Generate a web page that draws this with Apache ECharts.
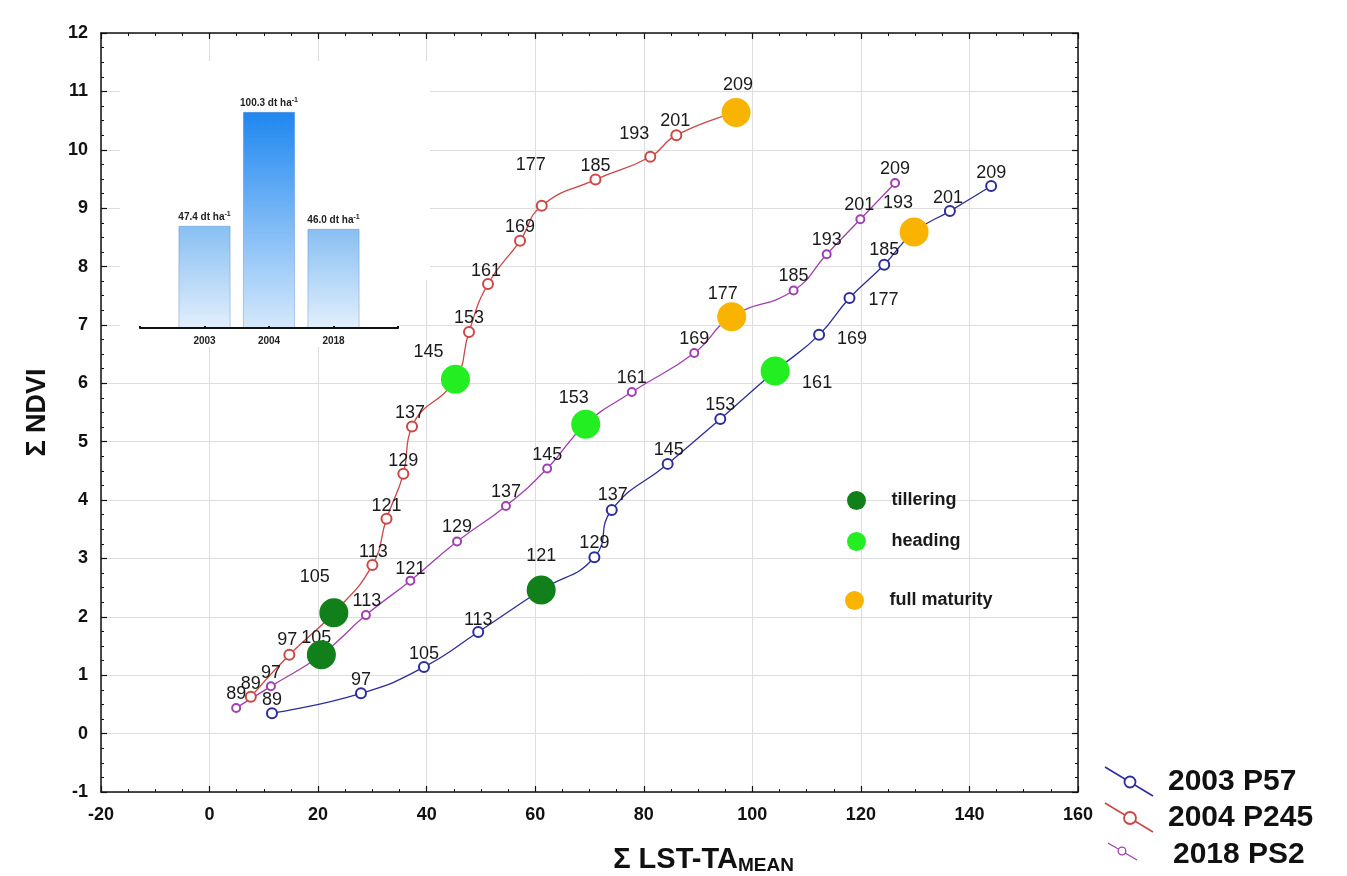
<!DOCTYPE html>
<html><head><meta charset="utf-8">
<script src="https://cdn.jsdelivr.net/npm/echarts@6/dist/echarts.min.js"></script>
<style>html,body{margin:0;padding:0;background:#fff}#c{width:1347px;height:876px}</style>
</head><body><div id="c"></div>
<script>
// ---- data ----
const days = [89, 97, 105, 113, 121, 129, 137, 145, 153, 161, 169, 177, 185, 193, 201, 209];

const x2003 = [11.5, 27.9, 39.5, 49.5, 61.1, 70.9, 74.1, 84.4, 94.1, 104.2, 112.3, 117.9, 124.3, 129.8, 136.4, 144.0];
const y2003 = [0.35, 0.69, 1.14, 1.74, 2.46, 3.02, 3.83, 4.62, 5.39, 6.21, 6.83, 7.46, 8.03, 8.59, 8.95, 9.38];

const x2004 = [7.6, 14.7, 22.9, 30.0, 32.6, 35.7, 37.3, 45.3, 47.8, 51.3, 57.2, 61.2, 71.1, 81.2, 86.0, 97.0];
const y2004 = [0.63, 1.35, 2.07, 2.89, 3.68, 4.45, 5.26, 6.07, 6.88, 7.70, 8.44, 9.04, 9.49, 9.88, 10.25, 10.64];

const x2018 = [4.9, 11.3, 20.6, 28.8, 37.0, 45.6, 54.6, 62.2, 69.3, 77.8, 89.3, 96.2, 107.6, 113.7, 119.9, 126.3];
const y2018 = [0.44, 0.81, 1.35, 2.03, 2.62, 3.29, 3.90, 4.54, 5.30, 5.85, 6.52, 7.14, 7.59, 8.21, 8.81, 9.43];

// growth stage (day of year) for each season
const tilleringDay = {'2003': 121, '2004': 105, '2018': 105};
const headingDay   = {'2003': 161, '2004': 145, '2018': 153};
const maturityDay  = {'2003': 193, '2004': 209, '2018': 177};

// inset: grain yield
const insetYears = ['2003', '2004', '2018'];
const insetYield = [47.4, 100.3, 46.0];

const xTicks = [-20, 0, 20, 40, 60, 80, 100, 120, 140, 160];
const yTicks = [-1, 0, 1, 2, 3, 4, 5, 6, 7, 8, 9, 10, 11, 12];

// ---- label placement (pixel offsets from point centre) ----
const lab2003 = [[0,-13],[0,-13],[0,-13],[0,-12],[0,-34],[0,-14],[1,-15],[1,-14],[0,-14],[42,12],[33,4],[34,2],[0,-15],[-16,-29],[-2,-13],[0,-13]];
const lab2004 = [[0,-13],[-2,-15],[-19,-36],[1,-13],[0,-13],[0,-13],[-2,-13],[-27,-27],[0,-14],[-2,-13],[0,-14],[-11,-41],[0,-14],[-16,-23],[-1,-14],[2,-27]];
const lab2018 = [[0,-14],[0,-13],[-5,-17],[1,-14],[0,-12],[0,-14],[0,-14],[0,-14],[-12,-26],[0,-14],[0,-14],[-9,-23],[0,-14],[0,-14],[-1,-14],[0,-14]];

const C2003 = '#2c2c9c', C2004 = '#cc4646', C2018 = '#a040b0';
const FONT = 'Arial, "Liberation Sans", sans-serif';

function lineData(xs, ys, offs) {
  return xs.map((x, i) => ({value: [x, ys[i], days[i]], label: {offset: offs[i]}}));
}
const seasons = [['2003', x2003, y2003], ['2004', x2004, y2004], ['2018', x2018, y2018]];
function stagePoints(map) {
  return seasons.map(([yr, xs, ys]) => {
    const i = days.indexOf(map[yr]);
    return [xs[i], ys[i]];
  });
}

function lineSeries(name, xs, ys, offs, color, size) {
  return {
    type: 'line', name, data: lineData(xs, ys, offs), xAxisIndex: 0, yAxisIndex: 0,
    smooth: 0.5, symbol: 'emptyCircle', symbolSize: size, showAllSymbol: true,
    lineStyle: {color, width: 1.3}, itemStyle: {color, borderColor: color, borderWidth: 1.3},
    label: {show: true, position: 'inside', formatter: p => p.value[2], color: '#1a1a1a',
            fontSize: 18, fontFamily: FONT, textBorderWidth: 0},
    emphasis: {disabled: true}, z: 2
  };
}
function stageSeries(name, map, color) {
  return {type: 'scatter', name, data: stagePoints(map), xAxisIndex: 0, yAxisIndex: 0,
    symbol: 'circle', symbolSize: 29, itemStyle: {color, opacity: 1}, silent: true, z: 4,
    emphasis: {disabled: true}};
}

const gradDark = new echarts.graphic.LinearGradient(0, 0, 0, 1, [{offset: 0, color: '#1f87f0'}, {offset: 1, color: '#d4e8fb'}]);
const gradLight = new echarts.graphic.LinearGradient(0, 0, 0, 1, [{offset: 0, color: '#88bff2'}, {offset: 1, color: '#e2effc'}]);
const insetCats = [''].concat(insetYears, ['']);
const insetData = [null].concat(insetYield.map((v, i) => ({
  value: v, itemStyle: {color: i === 1 ? gradDark : gradLight}
})), [null]);

const axisBase = {
  type: 'value', gridIndex: 0,
  axisLine: {show: true, onZero: false, lineStyle: {color: '#111', width: 1.5}},
  axisTick: {show: true, inside: true, length: 6, lineStyle: {color: '#111', width: 1.2}},
  minorTick: {show: true, splitNumber: 4, length: 3, lineStyle: {color: '#111', width: 1}}
};
const legendText = {fontSize: 18, fontWeight: 'bold', fontFamily: FONT, color: '#1a1a1a', padding: [0, 0, 0, 20]};

const chart = echarts.init(document.getElementById('c'));
chart.setOption({
  backgroundColor: '#fff',
  animation: false,
  grid: [
    {left: 101, right: 269, top: 33, bottom: 84, outerBoundsMode: 'none', containLabel: false},
    {left: 140, width: 258, top: 91, height: 237, outerBoundsMode: 'none', containLabel: false}
  ],
  xAxis: [
    Object.assign({}, axisBase, {min: xTicks[0], max: xTicks[xTicks.length - 1], interval: 20, position: 'bottom',
      splitLine: {show: true, lineStyle: {color: '#dedede', width: 1}},
      axisLabel: {color: '#111', fontSize: 18, fontWeight: 'bold', fontFamily: FONT, margin: 14},
      name: '{a|Σ LST-TA}{b|MEAN}', nameLocation: 'middle', nameGap: 53,
      nameTextStyle: {padding: [0, 0, 0, 228], rich: {
        a: {fontSize: 29, fontWeight: 'bold', fontFamily: FONT, color: '#111'},
        b: {fontSize: 19, fontWeight: 'bold', fontFamily: FONT, color: '#111', padding: [11, 0, 0, 0]}
      }}}),
    Object.assign({}, axisBase, {min: xTicks[0], max: xTicks[xTicks.length - 1], interval: 20, position: 'top',
      splitLine: {show: false}, axisLabel: {show: false}}),
    {type: 'category', gridIndex: 1, data: insetCats, boundaryGap: false, z: 5,
      axisLine: {show: true, lineStyle: {color: '#111', width: 2}},
      axisTick: {show: true, inside: true, length: 2, lineStyle: {color: '#111', width: 2}},
      axisLabel: {color: '#222', fontSize: 10, fontWeight: 'bold', fontFamily: FONT, margin: 8},
      splitLine: {show: false}}
  ],
  yAxis: [
    Object.assign({}, axisBase, {min: yTicks[0], max: yTicks[yTicks.length - 1], interval: 1, position: 'left',
      splitLine: {show: true, lineStyle: {color: '#dedede', width: 1}},
      axisLabel: {color: '#111', fontSize: 18, fontWeight: 'bold', fontFamily: FONT, margin: 13},
      name: 'Σ NDVI', nameLocation: 'middle', nameGap: 50, nameRotate: 90,
      nameTextStyle: {fontSize: 27, fontWeight: 'bold', fontFamily: FONT, color: '#111'}}),
    Object.assign({}, axisBase, {min: yTicks[0], max: yTicks[yTicks.length - 1], interval: 1, position: 'right',
      splitLine: {show: false}, axisLabel: {show: false}}),
    {type: 'value', gridIndex: 1, min: 0, max: 110, show: false}
  ],
  legend: [
    {data: ['tillering', 'heading'], orient: 'vertical', left: 847, top: 491, padding: 0,
      itemWidth: 20, itemHeight: 19, itemGap: 22, icon: 'circle', selectedMode: false,
      textStyle: legendText},
    {data: ['full maturity'], orient: 'vertical', left: 845, top: 591, padding: 0,
      itemWidth: 20, itemHeight: 19, icon: 'circle', selectedMode: false,
      textStyle: legendText}
  ],
  graphic: [
    {type: 'rect', shape: {x: 120, y: 61, width: 310, height: 219}, style: {fill: '#fff'}, z: 1, silent: true},
    {type: 'rect', shape: {x: 120, y: 279, width: 280, height: 68}, style: {fill: '#fff'}, z: 1, silent: true},
    {type: 'group', z: 10, children: [
      {type: 'line', shape: {x1: 1105, y1: 767, x2: 1153, y2: 796}, style: {stroke: C2003, lineWidth: 1.5}},
      {type: 'circle', shape: {cx: 1130, cy: 782, r: 5.5}, style: {fill: '#fff', stroke: C2003, lineWidth: 1.8}},
      {type: 'text', style: {text: '2003 P57', x: 1168, y: 782, font: 'bold 30px ' + FONT, fill: '#111', verticalAlign: 'middle'}},
      {type: 'line', shape: {x1: 1105, y1: 803, x2: 1153, y2: 832}, style: {stroke: C2004, lineWidth: 1.5}},
      {type: 'circle', shape: {cx: 1130, cy: 818, r: 6}, style: {fill: '#fff', stroke: C2004, lineWidth: 1.8}},
      {type: 'text', style: {text: '2004 P245', x: 1168, y: 818, font: 'bold 30px ' + FONT, fill: '#111', verticalAlign: 'middle'}},
      {type: 'line', shape: {x1: 1108, y1: 843, x2: 1137, y2: 860}, style: {stroke: C2018, lineWidth: 1.3}},
      {type: 'circle', shape: {cx: 1122, cy: 851, r: 3.8}, style: {fill: '#fff', stroke: C2018, lineWidth: 1.3}},
      {type: 'text', style: {text: '2018 PS2', x: 1173, y: 855, font: 'bold 30px ' + FONT, fill: '#111', verticalAlign: 'middle'}}
    ]}
  ],
  series: [
    {type: 'bar', name: 'yield', xAxisIndex: 2, yAxisIndex: 2, data: insetData, barWidth: 52, z: 3,
      itemStyle: {borderColor: 'rgba(70,120,190,0.45)', borderWidth: 0.8},
      label: {show: true, position: 'top', distance: 2,
        formatter: p => '{a|' + p.value.toFixed(1) + ' dt ha}{s|-1}',
        rich: {a: {fontSize: 10, fontWeight: 'bold', fontFamily: FONT, color: '#222'},
               s: {fontSize: 7, fontWeight: 'bold', fontFamily: FONT, color: '#222', verticalAlign: 'top', padding: [0, 0, 6, 0]}}},
      emphasis: {disabled: true}, silent: true},
    lineSeries('2003 P57', x2003, y2003, lab2003, C2003, 10),
    lineSeries('2004 P245', x2004, y2004, lab2004, C2004, 10),
    lineSeries('2018 PS2', x2018, y2018, lab2018, C2018, 8),
    stageSeries('tillering', tilleringDay, '#12801a'),
    stageSeries('heading', headingDay, '#22ee22'),
    stageSeries('full maturity', maturityDay, '#f8b400')
  ]
});
</script></body></html>
